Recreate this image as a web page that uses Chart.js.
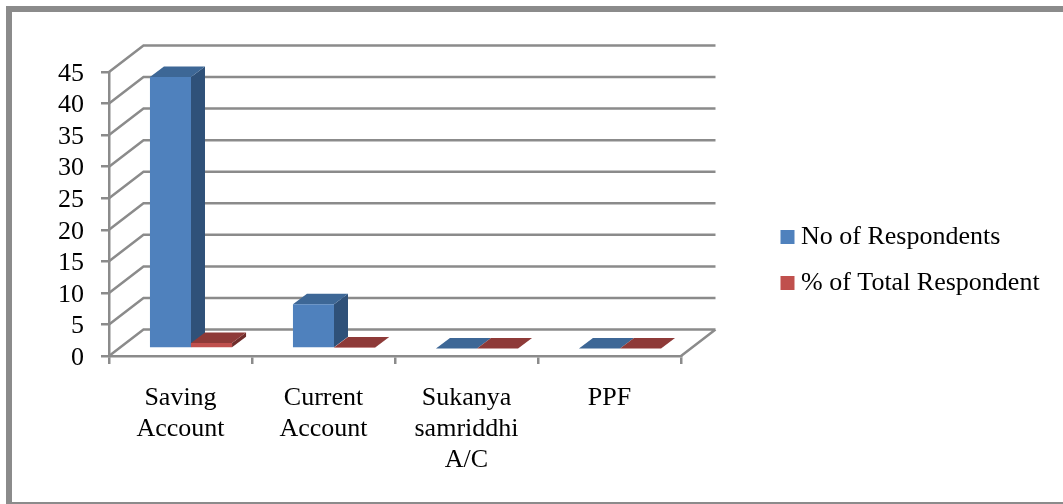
<!DOCTYPE html>
<html>
<head>
<meta charset="utf-8">
<title>Account types</title>
<script src="https://cdn.jsdelivr.net/npm/chart.js@4"></script>
<style>
    html, body { margin: 0; background: #fff; }
    .frame {
        position: absolute;
        left: 6px;
        top: 6px;
        width: 1051px;
        height: 490px;
        border-top: 6px solid #8b8b8b;
        border-left: 6px solid #8b8b8b;
        border-bottom: 2px solid #8b8b8b;
    }
    canvas { position: absolute; left: 0; top: 0; }
</style>
</head>
<body>
<div class="frame"></div>
<canvas id="chartAccounts" width="1063" height="504"></canvas>
<script>
const categories = [["Saving", "Account"], ["Current", "Account"], ["Sukanya", "samriddhi", "A/C"], ["PPF"]];
const noOfRespondents = [43, 7, 0, 0];
const pctOfTotalRespondent = [0.86, 0.14, 0, 0];
const seriesNames = ["No of Respondents", "% of Total Respondent"];

const axisGray = "#8b8b8b";
const serif = "'Liberation Serif'";

/* face colours per series */
const faces = [
    { front: "#4f81bd", top: "#3d6796", side: "#2f5179" },
    { front: "#c0504d", top: "#8e3a38", side: "#6f2d2b" }
];

/* how far the walls go back, and where the bars stand on the floor */
const wallDepth = { x: 34.5, y: -26.5 };
const barShift = { x: 10.5, y: -7.5 };
const barDepth = { x: 14, y: -10.5 };

function polygon(ctx, color, points) {
    ctx.fillStyle = color;
    ctx.beginPath();
    points.forEach((p, i) => i ? ctx.lineTo(p[0], p[1]) : ctx.moveTo(p[0], p[1]));
    ctx.closePath();
    ctx.fill();
}

const walls = {
    id: "walls",
    beforeDatasetsDraw(chart) {
        const { ctx, chartArea, scales } = chart;
        const d = wallDepth;
        ctx.save();
        ctx.strokeStyle = axisGray;
        ctx.lineWidth = 2.5;
        ctx.beginPath();
        for (const tick of scales.y.ticks) {
            const y = scales.y.getPixelForValue(tick.value);
            ctx.moveTo(chartArea.left, y);
            ctx.lineTo(chartArea.left + d.x, y + d.y);
            ctx.lineTo(chartArea.right + d.x, y + d.y);
        }
        // right edge of the floor
        ctx.moveTo(chartArea.right + d.x, chartArea.bottom + d.y);
        ctx.lineTo(chartArea.right, chartArea.bottom);
        ctx.stroke();
        ctx.restore();
    }
};

/* series go left to right, so the normal back-to-front dataset pass is skipped */
const bars3d = {
    id: "bars3d",
    beforeDatasetDraw() {
        return false;
    },
    afterDatasetsDraw(chart) {
        const { ctx } = chart;
        const d = barDepth;
        ctx.save();
        ctx.translate(barShift.x, barShift.y);
        for (const meta of chart.getSortedVisibleDatasetMetas()) {
            const colors = faces[meta.index];
            for (const bar of meta.data) {
                const left = bar.x - bar.width / 2;
                const right = bar.x + bar.width / 2;
                polygon(ctx, colors.side, [[right, bar.y], [right + d.x, bar.y + d.y], [right + d.x, bar.base + d.y], [right, bar.base]]);
                polygon(ctx, colors.top, [[left, bar.y], [left + d.x, bar.y + d.y], [right + d.x, bar.y + d.y], [right, bar.y]]);
            }
            meta.controller.draw();
        }
        ctx.restore();
    }
};

/* the legend is clipped to its box, which layout keeps narrow and too low */
const legendBox = {
    id: "legendBox",
    afterLayout(chart) {
        chart.legend.right = chart.width;
        chart.legend.top = 16;
    }
};

new Chart(document.getElementById("chartAccounts"), {
    type: "bar",
    data: {
        labels: categories,
        datasets: [
            { label: seriesNames[0], data: noOfRespondents, backgroundColor: faces[0].front },
            { label: seriesNames[1], data: pctOfTotalRespondent, backgroundColor: faces[1].front }
        ]
    },
    plugins: [walls, bars3d, legendBox],
    options: {
        responsive: false,
        animation: false,
        layout: { padding: { top: 72, right: 146 } },
        datasets: { bar: { categoryPercentage: 0.574, barPercentage: 1 } },
        plugins: {
            tooltip: { enabled: false },
            legend: {
                position: "right",
                maxWidth: 150,
                labels: {
                    usePointStyle: true,
                    pointStyle: "rect",
                    boxWidth: 1,
                    boxHeight: 14,
                    padding: 20,
                    color: "#000",
                    font: { family: serif, size: 26 }
                }
            }
        },
        scales: {
            x: {
                afterFit: s => { s.height = 148; },
                grid: { drawOnChartArea: false, color: axisGray, lineWidth: 2.5, tickLength: 8 },
                border: { color: axisGray, width: 2.5 },
                ticks: {
                    autoSkip: false,
                    maxRotation: 0,
                    minRotation: 0,
                    color: "#000",
                    padding: 19,
                    font: { family: serif, size: 26, lineHeight: 1.19 }
                }
            },
            y: {
                min: 0,
                max: 45,
                afterFit: s => { s.width = 109; },
                grid: { drawOnChartArea: false, color: axisGray, lineWidth: 2.5, tickLength: 8 },
                border: { color: axisGray, width: 2.5 },
                ticks: {
                    stepSize: 5,
                    autoSkip: false,
                    color: "#000",
                    padding: 17,
                    labelOffset: 2,
                    font: { family: serif, size: 26, lineHeight: 1 }
                }
            },
            // keeps the open space between the plot and the legend
            gap: {
                position: "right",
                afterFit: s => { s.width = 86; },
                grid: { display: false },
                border: { display: false },
                ticks: { display: false }
            }
        }
    }
});
</script>
</body>
</html>
